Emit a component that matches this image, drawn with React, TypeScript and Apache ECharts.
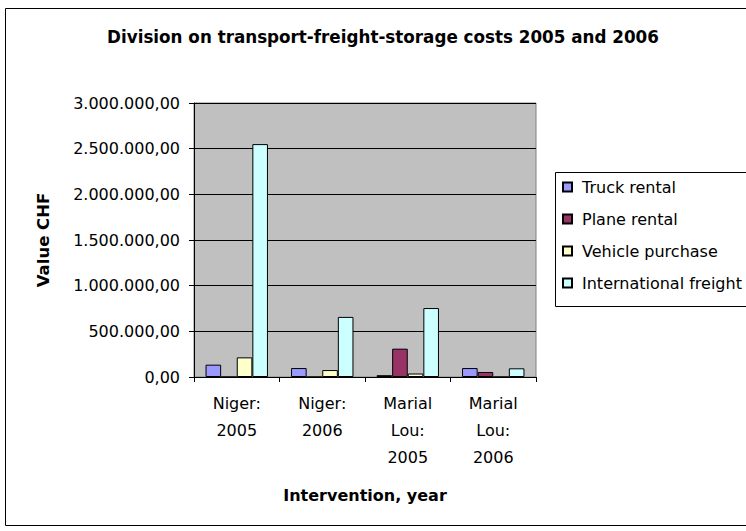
import React, { useEffect, useRef } from "react";
import * as echarts from "echarts";

const categories = ["Niger:\n2005", "Niger:\n2006", "Marial\nLou:\n2005", "Marial\nLou:\n2006"];
const seriesNames = ["Truck rental", "Plane rental", "Vehicle purchase", "International freight"];
const truckRental = [135000, 98000, 20000, 98000];
const planeRental = [0, 0, 310000, 55000];
const vehiclePurchase = [215000, 76000, 38000, 0];
const internationalFreight = [2550000, 658000, 755000, 95000];
const colors = ["#9999FF", "#993366", "#FFFFCC", "#CCFFFF"];

const FONT = "DejaVu Sans";

function fmt(v: number): string {
  const fixed = v.toFixed(2);
  const [intPart, dec] = fixed.split(".");
  const withDots = intPart.replace(/\B(?=(\d{3})+(?!\d))/g, ".");
  return withDots + "," + dec;
}

export default function App() {
  const ref = useRef<HTMLDivElement>(null);
  useEffect(() => {
    if (!ref.current) return;
    const chart = echarts.init(ref.current, undefined, { renderer: "svg" });
    const data = [truckRental, planeRental, vehiclePurchase, internationalFreight];
    chart.setOption({
      animation: false,
      backgroundColor: "#ffffff",
      title: {
        text: "Division on transport-freight-storage costs 2005 and 2006",
        left: 378,
        textAlign: "center",
        top: 23,
        textStyle: { fontFamily: FONT, fontWeight: "bold", fontSize: 16.75, color: "#000" },
      },
      graphic: [
        {
          type: "rect",
          shape: { x: 5.5, y: 8.5, width: 780, height: 517 },
          style: { fill: "none", stroke: "#000", lineWidth: 1 },
          silent: true,
        },
        {
          type: "rect",
          shape: { x: 555.5, y: 172.5, width: 240, height: 134 },
          style: { fill: "none", stroke: "#000", lineWidth: 1 },
          silent: true,
        },
      ],
      legend: {
        orient: "vertical",
        left: 562,
        top: 179,
        padding: 0,
        itemWidth: 9,
        itemHeight: 9,
        itemGap: 16,
        icon: "rect",
        textStyle: { fontFamily: FONT, fontSize: 16, color: "#000", padding: [0, 0, 0, 5] },
        data: seriesNames,
      },
      grid: {
        left: 194,
        top: 103,
        width: 342,
        height: 274,
        show: true,
        backgroundColor: "#C0C0C0",
        borderColor: "#808080",
        borderWidth: 1,
      },
      xAxis: {
        type: "category",
        data: categories,
        name: "Intervention, year",
        nameLocation: "middle",
        nameGap: 110,
        nameTextStyle: { fontFamily: FONT, fontWeight: "bold", fontSize: 16, color: "#000" },
        axisLine: { lineStyle: { color: "#000" } },
        axisTick: { show: true, length: 5, lineStyle: { color: "#000" } },
        axisLabel: { fontFamily: FONT, fontSize: 16, color: "#000", lineHeight: 27, margin: 13 },
      },
      yAxis: {
        type: "value",
        min: 0,
        max: 3000000,
        interval: 500000,
        name: "Value CHF",
        nameLocation: "middle",
        nameGap: 142,
        nameTextStyle: { fontFamily: FONT, fontWeight: "bold", fontSize: 16.5, color: "#000" },
        axisLine: { show: true, lineStyle: { color: "#000" } },
        axisTick: { show: true, length: 5, lineStyle: { color: "#000" } },
        splitLine: { lineStyle: { color: "#000", width: 1 } },
        axisLabel: { fontFamily: FONT, fontSize: 16, color: "#000", margin: 14, formatter: (v: number) => fmt(v) },
      },
      series: seriesNames.map((name, i) => ({
        name,
        type: "bar",
        data: data[i],
        barGap: "0%",
        barCategoryGap: "27%",
        itemStyle: { color: colors[i], borderColor: "#000", borderWidth: 1 },
      })),
    });
    return () => chart.dispose();
  }, []);
  return <div ref={ref} style={{ position: "absolute", left: 0, top: 0, width: 746, height: 531 }} />;
}
